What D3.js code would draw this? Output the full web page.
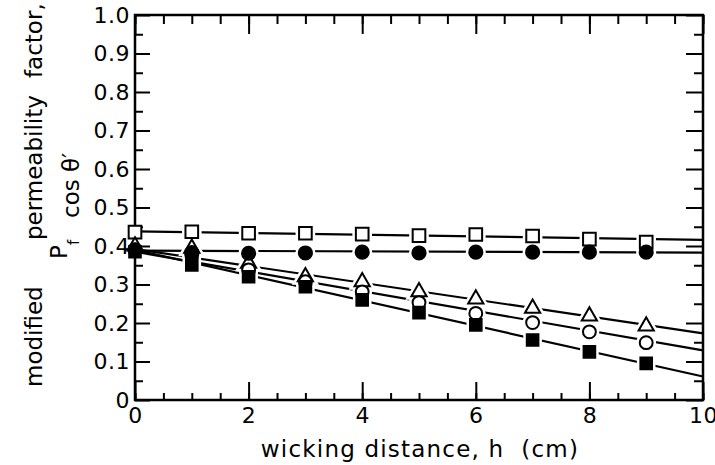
<!DOCTYPE html>
<html lang="en">
<head>
  <meta charset="UTF-8">
  <title>Modified permeability factor vs wicking distance</title>
  <script src="https://d3js.org/d3.v7.min.js"></script>
  <style>
    body {
      margin: 0;
      background: white;
    }
    svg text {
      font-family: "DejaVu Sans", sans-serif;
      font-size: 23px;
      fill: #000;
    }
  </style>
</head>
<body>
  <div id="chart"></div>

  <script>
    // wicking distance h (cm) of the measured points
    const hValues = [0, 1, 2, 3, 4, 5, 6, 7, 8, 9];

    // measured Pf cos(theta') per series
    const openSquares = [0.436, 0.437, 0.433, 0.433, 0.431, 0.427, 0.430, 0.426, 0.418, 0.410];
    const filledCircles = [0.390, 0.383, 0.381, 0.382, 0.384, 0.382, 0.384, 0.384, 0.384, 0.384];
    const openTriangles = [0.400, 0.394, 0.355, 0.320, 0.307, 0.281, 0.262, 0.238, 0.218, 0.192];
    const openCircles = [0.390, 0.377, 0.338, 0.307, 0.281, 0.253, 0.225, 0.201, 0.177, 0.149];
    const filledSquares = [0.385, 0.351, 0.320, 0.294, 0.260, 0.227, 0.195, 0.156, 0.125, 0.095];

    // fitted straight lines, value at h = 0 and h = 10
    const fitH = [0, 10];
    const openSquaresFit = [0.438, 0.416];
    const filledCirclesFit = [0.388, 0.383];
    const openTrianglesFit = [0.392, 0.173];
    const openCirclesFit = [0.385, 0.129];
    const filledSquaresFit = [0.390, 0.061];

    // ticks
    const xMajor = [0, 2, 4, 6, 8, 10];
    const xMinor = d3.range(0, 10.001, 0.5);
    const yMajor = [0, 0.1, 0.2, 0.3, 0.4, 0.5, 0.6, 0.7, 0.8, 0.9, 1.0];
    const yLabels = ["0", "0.1", "0.2", "0.3", "0.4", "0.5", "0.6", "0.7", "0.8", "0.9", "1.0"];
    const yMinor = d3.range(0.05, 1, 0.1);

    const width = 715, height = 465;
    const x = d3.scaleLinear().domain([0, 10]).range([135, 703]);
    const y = d3.scaleLinear().domain([0, 1]).range([400, 15]);

    const svg = d3.select("#chart").append("svg")
      .attr("width", width)
      .attr("height", height);

    function styleAxis(g) {
      g.select(".domain").remove();
      g.selectAll("line").attr("stroke", "#000").attr("stroke-width", 2);
      g.selectAll("text")
        .style("font-family", "DejaVu Sans")
        .style("font-size", "22px")
        .style("letter-spacing", "0.5px");
    }

    // bottom axis
    svg.append("g").attr("transform", "translate(0,400)")
      .call(d3.axisBottom(x).tickValues(xMinor).tickSize(-7).tickFormat(""))
      .call(styleAxis);
    svg.append("g").attr("transform", "translate(0,400)")
      .call(d3.axisBottom(x).tickValues(xMajor).tickSize(-18).tickPadding(7).tickFormat(d3.format("d")))
      .call(styleAxis);

    // top axis
    svg.append("g").attr("transform", "translate(0,15)")
      .call(d3.axisTop(x).tickValues(xMinor).tickSize(-9).tickFormat(""))
      .call(styleAxis);
    svg.append("g").attr("transform", "translate(0,15)")
      .call(d3.axisTop(x).tickValues(xMajor).tickSize(-19).tickFormat(""))
      .call(styleAxis);

    // left axis
    svg.append("g").attr("transform", "translate(135,0)")
      .call(d3.axisLeft(y).tickValues(yMinor).tickSize(-8).tickFormat(""))
      .call(styleAxis);
    svg.append("g").attr("transform", "translate(135,0)")
      .call(d3.axisLeft(y).tickValues(yMajor).tickSize(-15).tickPadding(5)
        .tickFormat((d, i) => yLabels[i]))
      .call(styleAxis);

    // right axis
    svg.append("g").attr("transform", "translate(703,0)")
      .call(d3.axisRight(y).tickValues(yMinor).tickSize(-9).tickFormat(""))
      .call(styleAxis);
    svg.append("g").attr("transform", "translate(703,0)")
      .call(d3.axisRight(y).tickValues(yMajor).tickSize(-17).tickFormat(""))
      .call(styleAxis);

    // frame
    svg.append("rect")
      .attr("x", x(0)).attr("y", y(1))
      .attr("width", x(10) - x(0)).attr("height", y(0) - y(1))
      .attr("fill", "none").attr("stroke", "#000").attr("stroke-width", 2.5);

    const series = [
      { values: openSquares, fit: openSquaresFit, type: d3.symbolSquare, size: 160, filled: false },
      { values: openTriangles, fit: openTrianglesFit, type: d3.symbolTriangle, size: 100, filled: false },
      { values: openCircles, fit: openCirclesFit, type: d3.symbolCircle, size: 130, filled: false },
      { values: filledCircles, fit: filledCirclesFit, type: d3.symbolCircle, size: 135, filled: true },
      { values: filledSquares, fit: filledSquaresFit, type: d3.symbolSquare, size: 135, filled: true }
    ];

    const line = d3.line().x(d => x(d[0])).y(d => y(d[1]));

    // fitted lines
    svg.append("g").selectAll("path")
      .data(series)
      .join("path")
      .attr("d", s => line(fitH.map((h, i) => [h, s.fit[i]])))
      .attr("fill", "none")
      .attr("stroke", "#000")
      .attr("stroke-width", 2.2);

    // white gap round each marker
    series.forEach(s => {
      svg.append("g").selectAll("path")
        .data(hValues.slice(1).map((h, i) => [h, s.values[i + 1]]))
        .join("path")
        .attr("transform", d => `translate(${x(d[0])},${y(d[1])})`)
        .attr("d", d3.symbol().type(s.type).size(s.size))
        .attr("fill", "#fff")
        .attr("stroke", "#fff")
        .attr("stroke-width", 7);
    });

    // markers
    series.forEach(s => {
      svg.append("g").selectAll("path")
        .data(hValues.map((h, i) => [h, s.values[i]]))
        .join("path")
        .attr("transform", d => `translate(${x(d[0])},${y(d[1])})`)
        .attr("d", d3.symbol().type(s.type).size(s.size))
        .attr("fill", s.filled ? "#000" : "#fff")
        .attr("stroke", "#000")
        .attr("stroke-width", 2);
    });

    // axis titles
    svg.append("text")
      .attr("x", 420).attr("y", 457)
      .attr("text-anchor", "middle")
      .attr("xml:space", "preserve")
      .style("letter-spacing", "1.2px")
      .text("wicking distance, h  (cm)");

    const yTitle = [
      { text: "modified", x: 42, y: 387 },
      { text: "permeability", x: 42, y: 240 },
      { text: "factor,", x: 42, y: 78 },
      { text: "cos \u03B8\u2032", x: 79, y: 218 }
    ];
    svg.append("g").selectAll("text")
      .data(yTitle)
      .join("text")
      .attr("transform", d => `translate(${d.x},${d.y}) rotate(-90)`)
      .text(d => d.text);

    svg.append("text")
      .attr("transform", "translate(67,259) rotate(-90)")
      .text("P");
    svg.append("text")
      .attr("transform", "translate(79,245) rotate(-90)")
      .style("font-size", "15px")
      .text("f");
  </script>
</body>
</html>
